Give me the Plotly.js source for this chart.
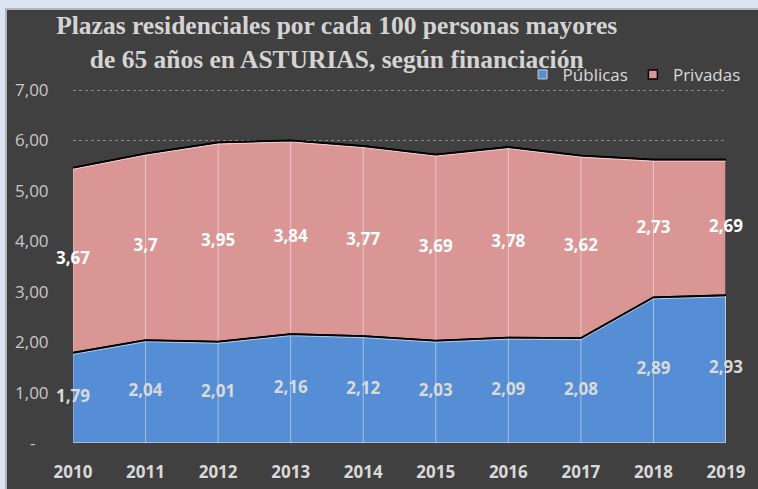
<!DOCTYPE html>
<html>
<head>
<meta charset="utf-8">
<script src="https://cdn.plot.ly/plotly-3.0.1.min.js"></script>
<style>
  html, body { margin: 0; padding: 0; background: #dce3f3; width: 758px; height: 489px; overflow: hidden; }
  #frame { position: absolute; left: 5px; top: 8px; width: 751px; height: 479px;
           border-left: 2px solid #b4b4b4; border-top: 2px solid #b4b4b4; background: #404040; }
  #chart { width: 751px; height: 479px; }
</style>
</head>
<body>
<div id="frame"><div id="chart"></div></div>
<script>
// ---- data ----
const years = [2010, 2011, 2012, 2013, 2014, 2015, 2016, 2017, 2018, 2019];
const publicas = [1.79, 2.04, 2.01, 2.16, 2.12, 2.03, 2.09, 2.08, 2.89, 2.93];
const privadas = [3.67, 3.70, 3.95, 3.84, 3.77, 3.69, 3.78, 3.62, 2.73, 2.69];
const yTickVals = [0, 1, 2, 3, 4, 5, 6, 7];
const yTickText = ['-\u00a0\u00a0\u00a0', '1,00', '2,00', '3,00', '4,00', '5,00', '6,00', '7,00'];
const seriesNames = ['Públicas', 'Privadas'];

// ---- styling ----
const BLUE = '#558ed5';
const PINK = '#d99694';
const BG = '#404040';
const M = {l: 66, r: 28, t: 78, b: 46};
const H = 479, W = 751;
const plotH = H - M.t - M.b;
const yMax = 7.04;
const pxUnit = plotH / yMax;

const totals = publicas.map((v, i) => v + privadas[i]);
const fmt = v => String(v).replace('.', ',');
const revYears = years.slice().reverse();

const traces = [];
// Públicas polygon
traces.push({
  x: years.concat(revYears), y: publicas.concat(years.map(() => 0)),
  mode: 'lines', fill: 'toself', fillcolor: BLUE,
  line: {color: '#c8c8c8', width: 1.5}, hoverinfo: 'skip', showlegend: false
});
// Privadas polygon
traces.push({
  x: years.concat(revYears), y: totals.concat(publicas.slice().reverse()),
  mode: 'lines', fill: 'toself', fillcolor: PINK,
  line: {color: '#000000', width: 1.5}, hoverinfo: 'skip', showlegend: false
});
// drop lines
const dx = [], dy = [];
years.forEach((yr, i) => { dx.push(yr, yr, null); dy.push(0, totals[i], null); });
traces.push({
  x: dx, y: dy, mode: 'lines', line: {color: 'rgba(255,255,255,0.45)', width: 1},
  hoverinfo: 'skip', showlegend: false
});
// light highlight just below the black edges
const off = 1.6 / pxUnit;
traces.push({
  x: years, y: totals.map(v => v - off), mode: 'lines',
  line: {color: 'rgba(255,255,255,0.55)', width: 1}, hoverinfo: 'skip', showlegend: false
});
traces.push({
  x: years, y: publicas.map(v => v - off), mode: 'lines',
  line: {color: 'rgba(255,255,255,0.55)', width: 1}, hoverinfo: 'skip', showlegend: false
});
// black edges redrawn on top
traces.push({
  x: years, y: totals, mode: 'lines', line: {color: '#000', width: 1.8},
  hoverinfo: 'skip', showlegend: false
});
traces.push({
  x: years, y: publicas, mode: 'lines', line: {color: '#000', width: 1.8},
  hoverinfo: 'skip', showlegend: false
});
// data labels
traces.push({
  x: years, y: publicas.map(v => v / 2), mode: 'text', text: publicas.map(fmt),
  textposition: 'middle center', cliponaxis: false,
  textfont: {family: 'Open Sans', size: 17, color: '#d9d9d9', weight: 'bold'},
  hoverinfo: 'skip', showlegend: false
});
traces.push({
  x: years, y: publicas.map((v, i) => v + privadas[i] / 2), mode: 'text', text: privadas.map(fmt),
  textposition: 'middle center', cliponaxis: false,
  textfont: {family: 'Open Sans', size: 17, color: '#ffffff', weight: 'bold'},
  hoverinfo: 'skip', showlegend: false
});
// legend entries
traces.push({
  x: [null], y: [null], mode: 'markers', name: seriesNames[0],
  marker: {symbol: 'square', size: 9, color: BLUE, line: {color: '#d0d0d0', width: 1}}
});
traces.push({
  x: [null], y: [null], mode: 'markers', name: seriesNames[1],
  marker: {symbol: 'square', size: 9, color: PINK, line: {color: '#000', width: 1.5}}
});

const layout = {
  width: W, height: H,
  margin: M,
  paper_bgcolor: BG, plot_bgcolor: BG,
  separators: ',.',
  title: {
    text: 'Plazas residenciales por cada 100 personas mayores<br>de 65 años en ASTURIAS, según financiación',
    font: {family: 'Liberation Serif', size: 25.5, color: '#d4d4d4', weight: 'bold'},
    x: 0.439, xanchor: 'center', xref: 'container',
    y: 0.949, yanchor: 'top', yref: 'container'
  },
  xaxis: {
    range: [years[0], years[years.length - 1]],
    tickvals: years, ticktext: years.map(String),
    showgrid: false, zeroline: false, showline: false,
    ticks: 'outside', ticklen: 14, tickcolor: 'rgba(0,0,0,0)',
    tickfont: {family: 'Open Sans', size: 17, color: '#d9d9d9', weight: 'bold'},
    fixedrange: true
  },
  yaxis: {
    range: [0, yMax],
    tickvals: yTickVals, ticktext: yTickText,
    showgrid: true, gridcolor: '#8a8a8a', griddash: 'dot', gridwidth: 1,
    zeroline: false, showline: false,
    ticks: 'outside', ticklen: 20, tickcolor: 'rgba(0,0,0,0)',
    tickfont: {family: 'Open Sans', size: 17, color: '#c8c8c8'},
    fixedrange: true
  },
  showlegend: true,
  legend: {
    orientation: 'h', x: 1.03, xanchor: 'right', y: 1.037, yanchor: 'middle',
    bgcolor: 'rgba(0,0,0,0)', itemwidth: 30,
    font: {family: 'Open Sans', size: 17, color: '#d9d9d9'},
    traceorder: 'normal'
  }
};

Plotly.newPlot('chart', traces, layout, {displayModeBar: false, staticPlot: true});
</script>
</body>
</html>
